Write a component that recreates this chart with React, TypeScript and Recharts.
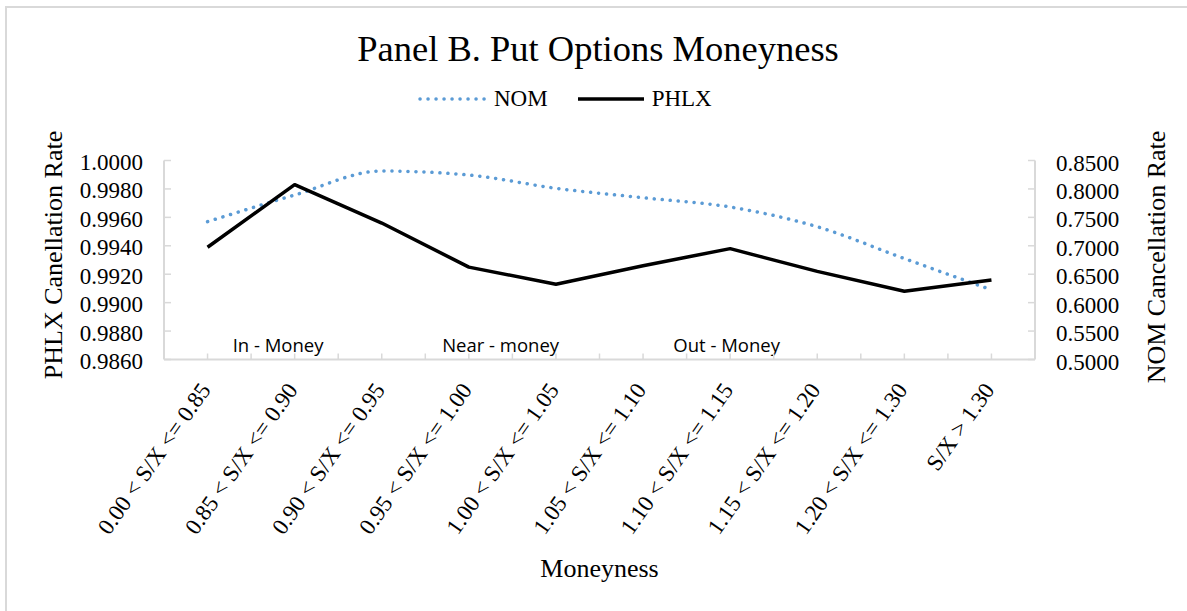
import { LineChart, Line, XAxis, YAxis, Legend, Label, ReferenceDot } from 'recharts';

const categories = [
    '0.00 < S/X <= 0.85',
    '0.85 < S/X <= 0.90',
    '0.90 < S/X <= 0.95',
    '0.95 < S/X <= 1.00',
    '1.00 < S/X <= 1.05',
    '1.05 < S/X <= 1.10',
    '1.10 < S/X <= 1.15',
    '1.15 < S/X <= 1.20',
    '1.20 < S/X <= 1.30',
    'S/X > 1.30',
];
const nomValues = [0.7424, 0.7893, 0.8315, 0.8245, 0.8011, 0.7845, 0.7682, 0.7335, 0.6775, 0.6225];
const phlxValues = [0.9939, 0.9983, 0.9956, 0.9925, 0.9913, 0.9926, 0.9938, 0.9922, 0.9908, 0.9916];

const phlxTicks = [0.986, 0.988, 0.99, 0.992, 0.994, 0.996, 0.998, 1.0];
const nomTicks = [0.5, 0.55, 0.6, 0.65, 0.7, 0.75, 0.8, 0.85];

// zone labels drawn inside the plot, positioned on the category scale
const zoneLabels = ['In - Money', 'Near - money', 'Out - Money'];
const zonePositions = [1.31, 3.865, 6.46];

const serif = '"Liberation Serif", "Times New Roman", serif';
const gray = '#d9d9d9';
const blue = '#5B9BD5';

const data = categories.map((c, i) => ({
    pos: i + 0.5,
    name: c,
    NOM: nomValues[i],
    PHLX: phlxValues[i],
}));

const xTicks = categories.flatMap((_, i) => [i + 0.5, i + 1]).filter(v => v < categories.length);

const XTick = (props: any) => {
    const { x, y, payload } = props;
    const v = payload.value;
    const isCenter = Math.abs(v % 1 - 0.5) < 1e-6;
    const ax = x + 4;
    const ay = y + 30.5;
    return (
        <g>
            <line x1={x} x2={x} y1={y} y2={y - 6} stroke={gray} strokeWidth={1.5} />
            {isCenter && (
                <text x={ax} y={ay} transform={`rotate(-55, ${ax}, ${ay})`} textAnchor='end'
                    fontFamily={serif} fontSize={23} fill='#000'>
                    {categories[Math.floor(v)]}
                </text>
            )}
        </g>
    );
};

const LeftTick = (props: any) => {
    const { x, y, payload } = props;
    return (
        <g>
            <line x1={x} x2={x + 7} y1={y} y2={y} stroke={gray} strokeWidth={1.5} />
            <text x={x - 21} y={y + 9.5} textAnchor='end' fontFamily={serif} fontSize={23} fill='#000'>
                {payload.value.toFixed(4)}
            </text>
        </g>
    );
};

const RightTick = (props: any) => {
    const { x, y, payload } = props;
    return (
        <g>
            <line x1={x} x2={x - 7} y1={y} y2={y} stroke={gray} strokeWidth={1.5} />
            <text x={x + 21} y={y + 10} textAnchor='start' fontFamily={serif} fontSize={23} fill='#000'>
                {payload.value.toFixed(4)}
            </text>
        </g>
    );
};

const LegendContent = (props: any) => {
    const { payload } = props;
    return (
        <div style={{ display: 'flex', alignItems: 'center', paddingLeft: 418, fontFamily: serif, fontSize: 23 }}>
            {(payload || []).map((p: any, i: number) => {
                const dotted = p.dataKey === 'NOM';
                return (
                    <div key={p.value} style={{ display: 'flex', alignItems: 'center', marginLeft: i === 0 ? 0 : 28 }}>
                        <svg width={70} height={10} style={{ display: 'block' }}>
                            <line x1={2} x2={68} y1={5} y2={5} stroke={p.color}
                                strokeWidth={3.5} strokeLinecap={dotted ? 'round' : 'butt'}
                                strokeDasharray={dotted ? '0.1 7.9' : undefined} />
                        </svg>
                        <span style={{ marginLeft: 6, lineHeight: 1 }}>{p.value}</span>
                    </div>
                );
            })}
        </div>
    );
};

const App = () => {
    return (
        <div style={{ position: 'absolute', left: 0, top: 0, width: 1187, height: 611, overflow: 'hidden', background: '#fff' }}>
            <div style={{ position: 'absolute', left: 5, top: 6, width: 1200, height: 620, borderLeft: `2px solid ${gray}`, borderTop: `2px solid ${gray}` }} />
            <div style={{ position: 'absolute', left: 0, top: 30.5, width: 1196, textAlign: 'center', fontFamily: serif, fontSize: 36.5, lineHeight: 1 }}>
                Panel B. Put Options Moneyness
            </div>
            <LineChart
                width={1187}
                height={611}
                data={data}
                margin={{ top: 160.5, right: 52, bottom: 151.5, left: 64 }}
                style={{ position: 'absolute', left: 0, top: 0 }}
            >
                <XAxis
                    dataKey='pos'
                    type='number'
                    domain={[0, categories.length]}
                    ticks={xTicks}
                    interval={0}
                    height={100}
                    tickSize={0}
                    tickMargin={0}
                    tickLine={false}
                    tick={<XTick />}
                    axisLine={{ stroke: gray, strokeWidth: 2 }}
                >
                    <Label content={(p: any) => {
                        const vb = p.viewBox;
                        return (
                            <text x={vb.x + vb.width / 2} y={vb.y + 217.5} textAnchor='middle' fontFamily={serif} fontSize={26} fill='#000'>
                                Moneyness
                            </text>
                        );
                    }} />
                </XAxis>
                <YAxis
                    yAxisId='left'
                    domain={[0.986, 1.0]}
                    ticks={phlxTicks}
                    allowDataOverflow
                    width={100}
                    tickSize={0}
                    tickMargin={0}
                    tickLine={false}
                    tick={<LeftTick />}
                    axisLine={{ stroke: gray, strokeWidth: 2 }}
                >
                    <Label content={(p: any) => {
                        const vb = p.viewBox;
                        const cx = vb.x + vb.width - 102;
                        const cy = vb.y + vb.height / 2 - 5;
                        return (
                            <text x={cx} y={cy} transform={`rotate(-90, ${cx}, ${cy})`} textAnchor='middle' fontFamily={serif} fontSize={26} fill='#000'>
                                PHLX Canellation Rate
                            </text>
                        );
                    }} />
                </YAxis>
                <YAxis
                    yAxisId='right'
                    orientation='right'
                    domain={[0.5, 0.85]}
                    ticks={nomTicks}
                    allowDataOverflow
                    width={100}
                    tickSize={0}
                    tickMargin={0}
                    tickLine={false}
                    tick={<RightTick />}
                    axisLine={{ stroke: gray, strokeWidth: 2 }}
                >
                    <Label content={(p: any) => {
                        const vb = p.viewBox;
                        const cx = vb.x + 130;
                        const cy = vb.y + vb.height / 2 - 3;
                        return (
                            <text x={cx} y={cy} transform={`rotate(-90, ${cx}, ${cy})`} textAnchor='middle' fontFamily={serif} fontSize={26} fill='#000'>
                                NOM Cancellation Rate
                            </text>
                        );
                    }} />
                </YAxis>
                <Legend
                    verticalAlign='middle'
                    layout='horizontal'
                    wrapperStyle={{ top: 87, left: 0, width: 1187 }}
                    content={<LegendContent />}
                />
                {zoneLabels.map((z, i) => (
                    <ReferenceDot
                        key={z}
                        x={zonePositions[i]}
                        y={0.986}
                        yAxisId='left'
                        r={0}
                        fill='none'
                        stroke='none'
                        label={(p: any) => (
                            <text x={p.viewBox.x} y={p.viewBox.y - 8} textAnchor='middle'
                                fontFamily='"Open Sans", sans-serif' fontSize={18.5} fill='#000'>
                                {z}
                            </text>
                        )}
                    />
                ))}
                <Line
                    yAxisId='right'
                    type='monotone'
                    dataKey='NOM'
                    stroke={blue}
                    strokeWidth={3.5}
                    strokeLinecap='round'
                    strokeDasharray='0.1 7.9'
                    dot={false}
                    activeDot={false}
                    isAnimationActive={false}
                />
                <Line
                    yAxisId='left'
                    type='linear'
                    dataKey='PHLX'
                    stroke='#000'
                    strokeWidth={3.5}
                    strokeLinejoin='round'
                    dot={false}
                    activeDot={false}
                    isAnimationActive={false}
                />
            </LineChart>
        </div>
    );
};

export default App;
